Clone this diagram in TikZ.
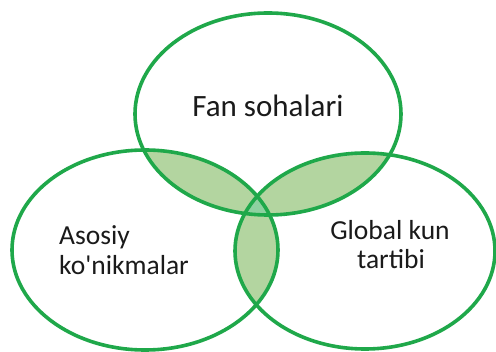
\documentclass[tikz,border=0pt]{standalone}
\usepackage{fontspec}
\setmainfont{Carlito}[Ligatures=TeXOff]
\definecolor{ring}{HTML}{1FA84A}
\definecolor{lensfill}{HTML}{B3D5A0}
\definecolor{midfill}{HTML}{8ED1A0}
\definecolor{txt}{HTML}{1A1A1A}
\tikzset{
  ringline/.style={draw=ring, line width=3.6pt},
  label/.style={text=txt, font=\fontsize{27.5}{30}\selectfont, inner sep=0pt},
}
\newcommand{\topE}{(268,114) ellipse [x radius=133, y radius=101]}
\newcommand{\leftE}{(145,250) ellipse [x radius=133, y radius=100]}
\newcommand{\rightE}{(365,251) ellipse [x radius=130, y radius=98]}
\begin{document}
\begin{tikzpicture}[x=1pt,y=-1pt]
\useasboundingbox (0,0) rectangle (496,352);
\fill[white] (0,0) rectangle (496,352);
\begin{scope}
  \clip \topE;
  \fill[lensfill] \leftE;
  \fill[lensfill] \rightE;
\end{scope}
\begin{scope}
  \clip \leftE;
  \fill[lensfill] \rightE;
\end{scope}
\begin{scope}
  \clip \topE;
  \clip \leftE;
  \fill[midfill] \rightE;
\end{scope}
\draw[ringline] \topE;
\draw[ringline] \leftE;
\draw[ringline] \rightE;
\node[label, font=\fontsize{31}{33}\selectfont, anchor=base] (fan) at (268,117) {Fan sohalari};
\node[label, anchor=base west] (asosiy) at (59,245) {Asosiy};
\node[label, anchor=base west] (konik) at (59,275) {ko'nikmalar};
\node[label, anchor=base] (global) at (390,240) {Global kun};
\node[label, anchor=base] (tartibi) at (391,269) {tartibi};
\end{tikzpicture}
\end{document}
